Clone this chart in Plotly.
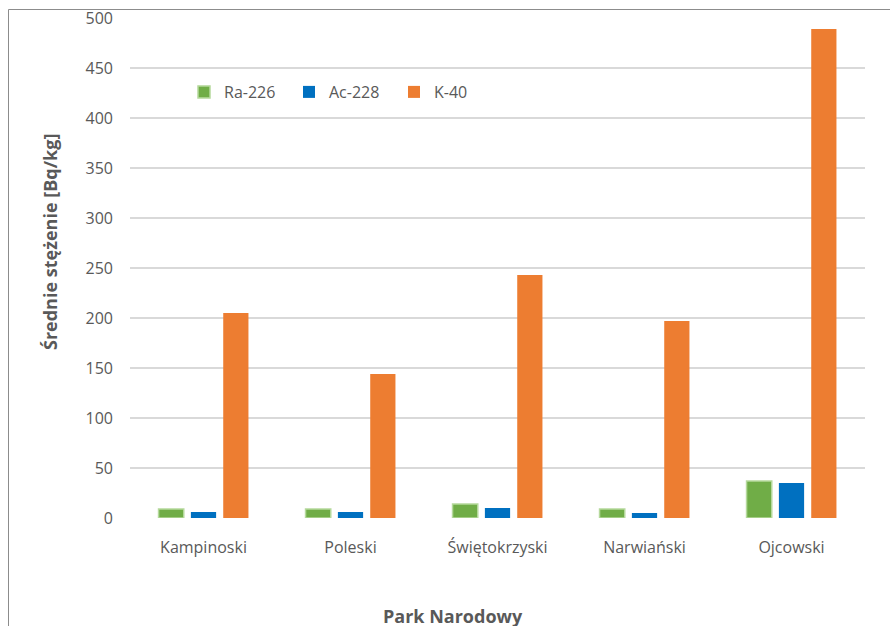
import plotly.graph_objects as go

# Mean activity concentrations per national park
parks = ["Kampinoski", "Poleski", "Świętokrzyski", "Narwiański", "Ojcowski"]
ra226 = [9, 9, 14, 9, 37]
ac228 = [6, 6, 10, 5, 35]
k40 = [205, 144, 243, 197, 489]
y_ticks = [0, 50, 100, 150, 200, 250, 300, 350, 400, 450, 500]

W, H = 890, 626
ML, MR, MT, MB = 130, 25, 18, 108
PW, PH = W - ML - MR, H - MT - MB

FONT = "Open Sans"
TXT = "#595959"

fig = go.Figure()
series = [
    ("Ra-226", ra226, "#70AD47", "#B5D99C", 1.5),
    ("Ac-228", ac228, "#0070C0", "#0070C0", 0),
    ("K-40", k40, "#ED7D31", "#ED7D31", 0),
]
for name, vals, col, edge, ew in series:
    fig.add_trace(go.Bar(
        x=parks, y=vals, name=name,
        marker=dict(color=col, line=dict(width=ew, color=edge)),
    ))

def px_x(p):
    return (p - ML) / PW

def px_y(p):
    return (H - MB - p) / PH

fig.update_layout(
    width=W, height=H,
    margin=dict(l=ML, r=MR, t=MT, b=MB, autoexpand=False),
    paper_bgcolor="white", plot_bgcolor="white",
    barmode="group", bargap=0.34, bargroupgap=0.22,
    font=dict(family=FONT, size=16, color=TXT),
    showlegend=True,
    legend=dict(
        orientation="h", x=px_x(184), y=px_y(92), xanchor="left", yanchor="middle",
        font=dict(family=FONT, size=16, color=TXT),
        itemwidth=30, entrywidth=60, entrywidthmode="pixels",
        bgcolor="rgba(0,0,0,0)", traceorder="normal",
    ),
    xaxis=dict(
        showgrid=False, showline=False, zeroline=False, automargin=False,
        ticks="", ticklabelstandoff=18,
        tickfont=dict(family=FONT, size=16, color=TXT),
    ),
    yaxis=dict(
        range=[0, 500], tickvals=y_ticks, automargin=False,
        showgrid=True, gridcolor="#D9D9D9", gridwidth=2,
        zeroline=False, showline=False, ticks="",
        ticklabelstandoff=16,
        tickfont=dict(family=FONT, size=16, color=TXT),
    ),
    annotations=[
        dict(text="<b>Średnie stężenie [Bq/kg]</b>", textangle=-90,
             xref="paper", yref="paper", x=px_x(50), y=px_y(242),
             xanchor="center", yanchor="middle", showarrow=False,
             font=dict(family=FONT, size=18, color=TXT)),
        dict(text="<b>Park Narodowy</b>",
             xref="paper", yref="paper", x=px_x(453), y=px_y(616),
             xanchor="center", yanchor="middle", showarrow=False,
             font=dict(family=FONT, size=18, color=TXT)),
    ],
    shapes=[
        dict(type="rect", xref="paper", yref="paper",
             x0=px_x(8.5), x1=px_x(W + 20), y0=px_y(H + 20), y1=px_y(9.5),
             line=dict(color="#8C8C8C", width=1), fillcolor="rgba(0,0,0,0)",
             layer="below"),
    ],
)

fig.write_html("out.html")
